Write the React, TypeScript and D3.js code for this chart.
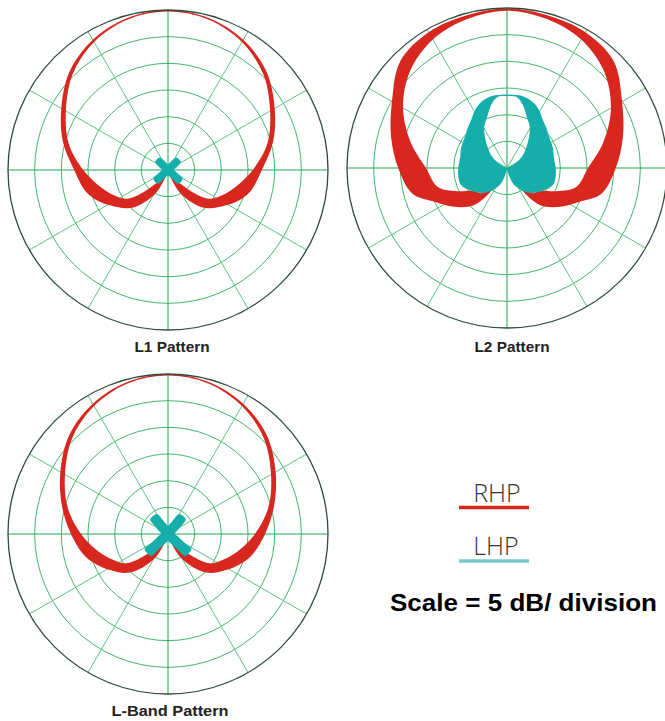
import React from 'react';
import { areaRadial, curveCatmullRom, scaleLinear, range } from 'd3';

// gain values in dB, scale = 5 dB / division, outer ring = 0 dB
// angles are degrees from zenith, right half only (patterns are symmetric)
const l1RhpAngles = [0, 15, 30, 45, 60, 75, 90, 105, 115, 125, 132, 138, 144, 150, 155, 160, 170, 180];
const l1RhpMax = [0, -0.5, -1.8, -3.9, -6.9, -9.6, -12.4, -14.1, -15.9, -18, -19.3, -20.6, -22.5, -24.4, -26.3, -28.5, -29.8, -30];
const l1RhpMin = [-0.3, -0.8, -2.3, -4.7, -7.9, -10.7, -14.1, -17.1, -18.8, -20.6, -23.8, -26.6, -28.1, -29.4, -30, -30, -30, -30];

const l1LhpAngles = [0, 16, 26, 33, 46, 59, 66, 76, 90, 102, 112, 118, 132, 146, 152, 162, 180];
const l1LhpMax = [-28.95, -28.5, -27.8, -27.2, -27.1, -27.2, -27.8, -28.5, -28.9, -28.5, -27.8, -26.9, -26.7, -26.9, -27.8, -28.5, -29];

const l2RhpAngles = [0, 15, 30, 45, 60, 75, 90, 105, 115, 125, 135, 140, 145, 150, 160, 180];
const l2RhpMax = [-0.1, -0.4, -0.6, -1.7, -5.1, -7.5, -9.6, -11.6, -15, -17.4, -19.7, -21.4, -24.4, -27.8, -29.6, -30];
const l2RhpMin = [-0.5, -1.1, -2.2, -4.3, -7.5, -11.3, -14.8, -16.5, -19.7, -22.5, -23.3, -25.3, -28.1, -29.6, -30, -30];

const l2LhpAngles = [0, 8, 14, 21, 29, 37, 45, 52, 59, 66, 78, 94, 110, 125, 135, 144, 157, 165, 180];
const l2LhpMax = [-16.2, -16.2, -16.3, -16.7, -17.6, -18.8, -19.5, -20.1, -20.4, -20.6, -21, -20.8, -20.8, -22.3, -23.4, -24.6, -26.6, -28.5, -30];
const l2LhpMin = [-16.5, -16.6, -17.8, -19.7, -21.2, -23.3, -25.1, -26.3, -27.8, -29.1, -30, -30, -30, -30, -30, -30, -30, -30, -30];

const lbRhpAngles = [0, 15, 30, 45, 60, 75, 90, 105, 115, 125, 132, 138, 144, 150, 155, 160, 170, 180];
const lbRhpMax = [0, -0.5, -1.8, -3.8, -6.7, -9.4, -11.8, -13.9, -15.8, -17.8, -19.1, -20.6, -22.5, -24.4, -26.3, -28.5, -29.8, -30];
const lbRhpMin = [-0.3, -0.8, -2.3, -4.6, -7.7, -10.5, -13.7, -16.7, -18.6, -20.4, -23.6, -26.6, -28.1, -29.4, -30, -30, -30, -30];

const lbLhpAngles = [0, 10, 20, 26, 29, 40, 51, 54, 60, 70, 86, 103, 113, 119, 123, 133, 143, 147, 153, 163, 180];
const lbLhpMax = [-28.5, -28.1, -27.3, -26.1, -25.7, -25.6, -25.7, -26.1, -27.3, -28.1, -28.7, -28.1, -27.3, -26.1, -24.75, -24.7, -24.75, -26.1, -27.3, -28.1, -28.7];

const titles = ['L1 Pattern', 'L2 Pattern', 'L-Band Pattern'];
const legendLabels = ['RHP', 'LHP'];
const scaleNote = 'Scale = 5 dB/ division';

const RED = '#d7271f';
const CYAN = '#16aeaa';
const R = 160;

interface Pt { a: number; hi: number; lo: number; }

const mirror = (angles: number[], hi: number[], lo?: number[]): Pt[] => {
  const right = angles.map((a, i) => ({ a, hi: hi[i], lo: lo ? lo[i] : -30 }));
  const left = right.slice(1).reverse().map(d => ({ ...d, a: -d.a }));
  return [...left, ...right];
};

const r = scaleLinear().domain([-30, 0]).range([0, R]).clamp(true);

const band = areaRadial<Pt>()
  .angle(d => (d.a * Math.PI) / 180)
  .innerRadius(d => r(d.lo))
  .outerRadius(d => r(d.hi))
  .curve(curveCatmullRom);

const ringLevels = range(-25, 0, 5);
const spokes = range(0, 360, 30);

const Polar: React.FC<{ cx: number; cy: number; rhp: Pt[]; lhp: Pt[] }> = ({ cx, cy, rhp, lhp }) => (
  <g transform={`translate(${cx},${cy})`}>
    <circle r={R} fill="#fff" />
    {ringLevels.map(l => (
      <circle key={l} r={r(l)} fill="none" stroke="#3fb86b" strokeWidth={1} />
    ))}
    {spokes.map(s => {
      const t = (s * Math.PI) / 180;
      const main = s % 90 === 0;
      return (
        <line key={s} x1={0} y1={0} x2={r(0) * Math.sin(t)} y2={-r(0) * Math.cos(t)}
          stroke={main ? '#20a44e' : '#5cc485'} strokeWidth={1} />
      );
    })}
    <path d={band(rhp) || ''} fill={RED} />
    <path d={band(lhp) || ''} fill={CYAN} />
    <circle r={R} fill="none" stroke="#2f4a3a" strokeWidth={1.3} />
  </g>
);

const App: React.FC = () => {
  const l1Rhp = mirror(l1RhpAngles, l1RhpMax, l1RhpMin);
  const l1Lhp = mirror(l1LhpAngles, l1LhpMax);
  const l2Rhp = mirror(l2RhpAngles, l2RhpMax, l2RhpMin);
  const l2Lhp = mirror(l2LhpAngles, l2LhpMax, l2LhpMin);
  const lbRhp = mirror(lbRhpAngles, lbRhpMax, lbRhpMin);
  const lbLhp = mirror(lbLhpAngles, lbLhpMax);

  const titleStyle = { fontFamily: 'Liberation Sans, Arial, sans-serif', fontWeight: 'bold' as const, fontSize: 14, fill: '#222' };
  const legendStyle = { fontFamily: 'Open Sans, DejaVu Sans, sans-serif', fontWeight: 300, fontSize: 25, fill: '#333' };

  return (
    <svg width={665} height={721} style={{ position: 'absolute', left: 0, top: 0, background: '#fff' }}>
      <Polar cx={168} cy={170} rhp={l1Rhp} lhp={l1Lhp} />
      <Polar cx={507} cy={168} rhp={l2Rhp} lhp={l2Lhp} />
      <Polar cx={168} cy={534} rhp={lbRhp} lhp={lbLhp} />

      <text x={172} y={352} textAnchor="middle" textLength={75} lengthAdjust="spacingAndGlyphs" style={titleStyle}>{titles[0]}</text>
      <text x={512} y={352} textAnchor="middle" textLength={75} lengthAdjust="spacingAndGlyphs" style={titleStyle}>{titles[1]}</text>
      <text x={170} y={716} textAnchor="middle" textLength={117} lengthAdjust="spacingAndGlyphs" style={titleStyle}>{titles[2]}</text>

      <text x={497} y={502} textAnchor="middle" style={legendStyle}>{legendLabels[0]}</text>
      <line x1={459} x2={529} y1={507.5} y2={507.5} stroke={RED} strokeWidth={3.5} />
      <text x={496} y={555} textAnchor="middle" style={legendStyle}>{legendLabels[1]}</text>
      <line x1={459} x2={529} y1={561} y2={561} stroke="#79c7d1" strokeWidth={3.5} />

      <text x={390} y={611} textLength={267} lengthAdjust="spacingAndGlyphs"
        style={{ fontFamily: 'Liberation Sans, Arial, sans-serif', fontWeight: 'bold', fontSize: 24.5, fill: '#000' }}>
        {scaleNote}
      </text>
    </svg>
  );
};

export default App;
